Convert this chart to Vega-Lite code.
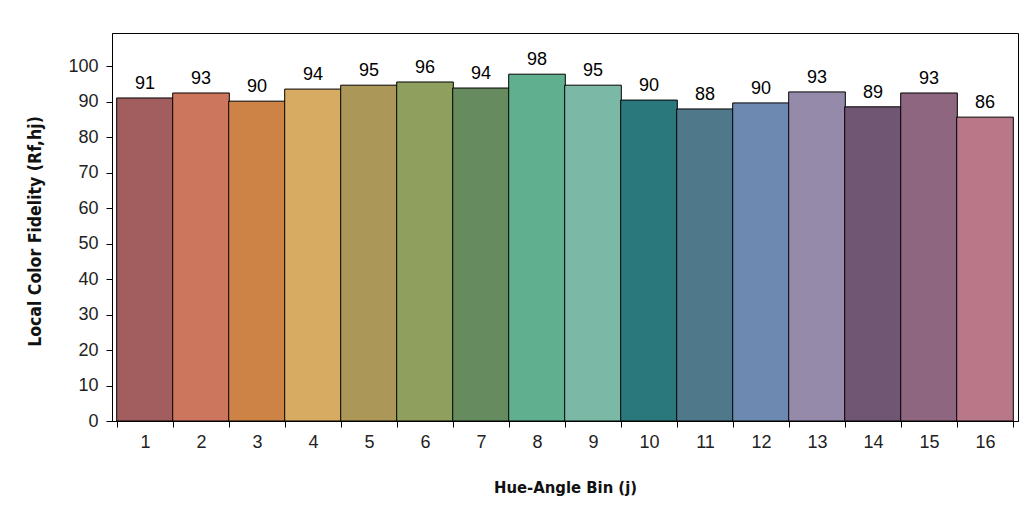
{
  "$schema": "https://vega.github.io/schema/vega-lite/v6.json",
  "description": "Local color fidelity per hue-angle bin.",
  "autosize": "none",
  "width": 906,
  "height": 388,
  "padding": {"left": 112, "top": 33, "right": 18, "bottom": 106},
  "data": {
    "values": [
      {"bin": 1, "rf": 91.0, "label": "91", "color": "#a25d5e"},
      {"bin": 2, "rf": 92.4, "label": "93", "color": "#cd765e"},
      {"bin": 3, "rf": 90.1, "label": "90", "color": "#cc8345"},
      {"bin": 4, "rf": 93.5, "label": "94", "color": "#d8ab62"},
      {"bin": 5, "rf": 94.6, "label": "95", "color": "#ab9858"},
      {"bin": 6, "rf": 95.5, "label": "96", "color": "#8f9f5d"},
      {"bin": 7, "rf": 93.8, "label": "94", "color": "#668b5e"},
      {"bin": 8, "rf": 97.7, "label": "98", "color": "#60b08f"},
      {"bin": 9, "rf": 94.6, "label": "95", "color": "#7bb9a6"},
      {"bin": 10, "rf": 90.4, "label": "90", "color": "#2a787b"},
      {"bin": 11, "rf": 87.9, "label": "88", "color": "#50788b"},
      {"bin": 12, "rf": 89.6, "label": "90", "color": "#6e89b1"},
      {"bin": 13, "rf": 92.7, "label": "93", "color": "#958aaa"},
      {"bin": 14, "rf": 88.5, "label": "89", "color": "#705673"},
      {"bin": 15, "rf": 92.4, "label": "93", "color": "#8e667f"},
      {"bin": 16, "rf": 85.6, "label": "86", "color": "#b87888"}
    ]
  },
  "encoding": {
    "y": {
      "field": "rf",
      "type": "quantitative",
      "scale": {"domain": [0, 109.3], "nice": false},
      "axis": {
        "values": [0, 10, 20, 30, 40, 50, 60, 70, 80, 90, 100],
        "labelOverlap": false,
        "title": "Local Color Fidelity (Rf,hj)",
        "titleFontSize": 17.5,
        "grid": false,
        "tickSize": 6,
        "tickColor": "black",
        "domainColor": "black",
        "labelFontSize": 18,
        "labelPadding": 8,
        "titlePadding": 23,
        "titleY": 198
      }
    }
  },
  "layer": [
    {
      "mark": {"type": "bar", "width": 56.625, "stroke": "black", "strokeWidth": 1},
      "encoding": {
        "x": {
          "field": "bin",
          "type": "quantitative",
          "scale": {"domain": [0.5, 16.5], "nice": false, "zero": false},
          "axis": {
            "orient": "bottom",
            "values": [0.5, 1.5, 2.5, 3.5, 4.5, 5.5, 6.5, 7.5, 8.5, 9.5, 10.5, 11.5, 12.5, 13.5, 14.5, 15.5, 16.5],
            "labels": false,
            "title": null,
            "grid": false,
            "ticks": true,
            "tickSize": 6,
            "tickColor": "black",
            "domainColor": "black"
          }
        },
        "color": {"field": "color", "type": "nominal", "scale": null, "legend": null}
      }
    },
    {
      "mark": {"type": "text", "fontSize": 18, "baseline": "alphabetic", "dy": -9, "color": "black"},
      "encoding": {
        "x": {
          "field": "bin",
          "type": "quantitative",
          "axis": {
            "orient": "bottom",
            "values": [1, 2, 3, 4, 5, 6, 7, 8, 9, 10, 11, 12, 13, 14, 15, 16],
            "labelOverlap": false,
            "ticks": false,
            "domain": false,
            "grid": false,
            "labelFontSize": 18,
            "labelPadding": 12,
            "title": "Hue-Angle Bin (j)",
            "titlePadding": 28
          }
        },
        "text": {"field": "label", "type": "nominal"}
      }
    }
  ],
  "resolve": {"axis": {"x": "independent"}},
  "config": {
    "font": "Liberation Sans",
    "view": {"stroke": "black", "strokeWidth": 1},
    "axis": {
      "labelFont": "Liberation Sans",
      "labelColor": "#222",
      "titleFont": "DejaVu Sans Condensed, Liberation Sans",
      "titleFontWeight": "bold",
      "titleFontSize": 16.5,
      "titleColor": "#111"
    }
  }
}
